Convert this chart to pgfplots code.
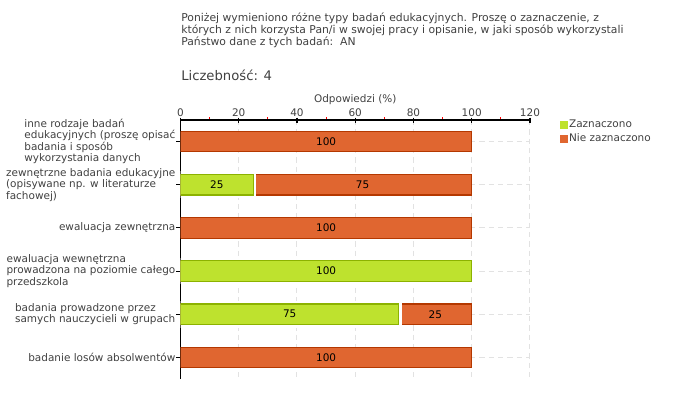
\documentclass[border=0pt]{standalone}
\usepackage{fontspec}
\setmainfont{DejaVu Sans}
\usepackage{pgfplots}
\usepackage{pgfplotstable}
\pgfplotsset{compat=1.18}
\definecolor{zgreen}{RGB}{190,226,46}
\definecolor{zgreenb}{RGB}{140,178,0}
\definecolor{norange}{RGB}{224,102,48}
\definecolor{norangeb}{RGB}{180,56,0}
\definecolor{txt}{RGB}{64,64,64}
\definecolor{gridc}{RGB}{226,226,226}
\pgfplotsset{layers/mylayers/.define layer set={axis background,axis grid,main,axis ticks,axis lines,axis tick labels,axis descriptions,axis foreground}{}}
\pgfplotstableread{
idx z n
0 0 100
1 25 75
2 0 100
3 100 0
4 75 25
5 0 100
}\data
\newcommand{\fs}{\fontsize{7.85}{8.6}\selectfont}
\begin{document}
\begin{tikzpicture}
\path (0pt,0pt) rectangle (510pt,300pt);
\node[anchor=north west, inner sep=0pt, align=left, text=txt, font=\fontsize{8.1}{8.8}\selectfont] at (135.75pt,290.5pt)
{Poniżej wymieniono różne typy badań edukacyjnych. Proszę o zaznaczenie, z\\
których z nich korzysta Pan/i w swojej pracy i opisanie, w jaki sposób wykorzystali\\
Państwo dane z tych badań:~~AN};
\node[anchor=west, inner sep=0pt, text=txt, font=\fontsize{9.9}{11}\selectfont] at (135.75pt,243.75pt) {Liczebność: 4};
\begin{axis}[
  set layers=mylayers,
  at={(135.375pt,15.75pt)}, anchor=south west,
  scale only axis, width=262.1pt, height=194.25pt,
  xmin=0, xmax=120, ymin=-0.5, ymax=5.5, y dir=reverse,
  axis x line=top, axis y line=left, axis line style={-, black, line width=0.8pt},
  xtick={0,20,...,120}, minor xtick={10,30,...,110},
  ytick={0,...,5},
  yticklabels={{inne rodzaje badań\\edukacyjnych (proszę opisać\\badania i sposób\\wykorzystania danych},
    {zewnętrzne badania edukacyjne\\(opisywane np. w literaturze\\fachowej)},
    {ewaluacja zewnętrzna},
    {ewaluacja wewnętrzna\\prowadzona na poziomie całego\\przedszkola},
    {badania prowadzone przez\\samych nauczycieli w grupach},
    {badanie losów absolwentów}},
  yticklabel style={align=left, anchor=east, inner sep=0pt, xshift=-1.8pt, font=\fs, text=txt},
  xticklabel style={font=\fs, text=txt, inner sep=0pt, yshift=0.8pt},
  /pgf/number format/assume math mode=true,
  tick align=center, major tick length=3.75pt, minor tick length=1.9pt,
  x tick style={black, line width=0.8pt},
  minor x tick style={red, line width=0.8pt, yshift=0.95pt},
  y tick style={black, line width=0.8pt, xshift=-1.5pt},
  xmajorgrids, ymajorgrids,
  grid style={gridc, line width=0.75pt, dash pattern=on 4pt off 3pt},
  xlabel={Odpowiedzi (\%)},
  xlabel style={font=\fs, text=txt, at={(axis description cs:0.5,1)}, anchor=south, yshift=11.5pt, inner sep=0pt},
  legend style={at={(axis description cs:1.086,1.008)}, anchor=north west, draw=none, fill=none,
    font=\fs, text=txt, inner sep=0pt, row sep=1.2pt, nodes={inner sep=1pt}},
  legend cell align=left,
  every node near coord/.append style={anchor=center, font=\fs, text=black, inner sep=0pt},
]
\addplot[xbar, bar width=15.4pt, fill=norange, draw=norangeb, line width=0.8pt, forget plot]
  table[x expr=\thisrow{z}+\thisrow{n}, y=idx] {\data};
\addplot[xbar, bar width=15.4pt, fill=zgreen, draw=zgreenb, line width=0.8pt, forget plot,
  restrict x to domain=0.5:200,
  preaction={draw=white, line width=4.6pt}]
  table[x=z, y=idx] {\data};
\addplot[only marks, mark=none, nodes near coords, point meta=explicit, forget plot,
  restrict x to domain=0.1:200]
  table[x expr=\thisrow{z}/2, y=idx, meta=z] {\data};
\addplot[only marks, mark=none, nodes near coords, point meta=explicit, forget plot,
  restrict x to domain=0:200]
  table[x expr={\thisrow{n}>0.5 ? \thisrow{z}+\thisrow{n}/2 : -50}, y=idx, meta=n] {\data};
\addlegendimage{legend image code/.code={\fill[zgreen] (0pt,-2.6pt) rectangle (5.2pt,2.6pt);}}
\addlegendentry{Zaznaczono}
\addlegendimage{legend image code/.code={\fill[norange] (0pt,-2.6pt) rectangle (5.2pt,2.6pt);}}
\addlegendentry{Nie zaznaczono}
\end{axis}
\end{tikzpicture}
\end{document}
